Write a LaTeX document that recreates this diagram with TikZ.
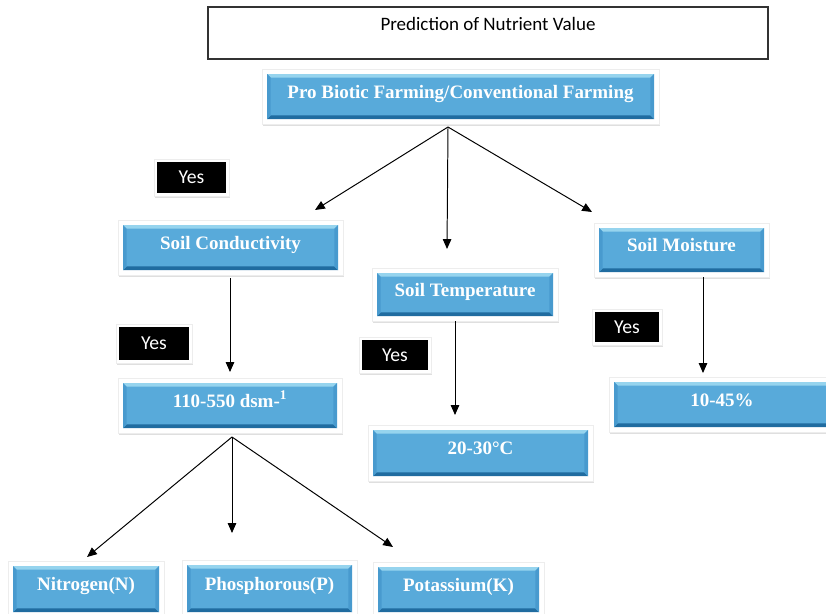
\documentclass[tikz,border=0pt]{standalone}
\usepackage{fontspec}
\setmainfont{Liberation Serif}
\newfontfamily\calibri{Carlito}
\usetikzlibrary{arrows.meta}
\usetikzlibrary{shadows}
\definecolor{boxblue}{RGB}{88,170,218}
\definecolor{boxlight}{RGB}{150,212,238}
\definecolor{boxdark}{RGB}{32,108,160}
\definecolor{boxside}{RGB}{72,154,206}
\tikzset{
	framed/.style={fill=white, draw=black!7, line width=0.3pt, inner sep=0pt,
		drop shadow={shadow xshift=0.8pt, shadow yshift=-1.2pt, opacity=0.25}},
	bevel/.style={path picture={
		% blue face inside the white frame
		\path (path picture bounding box.south west) ++(0.125cm,0.125cm) coordinate (sw) ++(0.09cm,0.09cm) coordinate (isw);
		\path (path picture bounding box.north east) ++(-0.125cm,-0.125cm) coordinate (ne) ++(-0.09cm,-0.09cm) coordinate (ine);
		\fill[boxblue] (sw) rectangle (ne);
		% bevel edges
		\fill[boxlight] (sw|-ne) -- (ne) -- (ine) -- (isw|-ine) -- cycle;
		\fill[boxdark] (sw) -- (ne|-sw) -- (ine|-isw) -- (isw) -- cycle;
		\fill[boxside] (sw) -- (sw|-ne) -- (isw|-ine) -- (isw) -- cycle;
		\fill[boxside] (ne|-sw) -- (ne) -- (ine) -- (ine|-isw) -- cycle;
	}},
	blackface/.style={path picture={
		\path (path picture bounding box.south west) ++(0.075cm,0.075cm) coordinate (sw);
		\path (path picture bounding box.north east) ++(-0.075cm,-0.075cm) coordinate (ne);
		\fill[black] (sw) rectangle (ne);
	}},
	arr/.style={-{Triangle[length=7pt,width=6pt]}, line width=0.7pt},
}
\newcommand{\bluebox}[6] % name, left, top, right, bottom (px), text
{
	\node[framed, bevel, text=white, font=\fontsize{13.5}{16}\selectfont\bfseries,
		text height=9.5pt, text depth=7pt,
		minimum width={(#4-#2+10)*0.025cm}, minimum height={(#5-#3+10)*0.025cm}]
		(#1) at ({(#2+#4)/2},{(#3+#5)/2}) {#6};
}
\newcommand{\yesbox}[5] % name, left, top, right, bottom (px)
{
	\node[framed, blackface, text=white, font=\calibri\fontsize{14}{16}\selectfont,
		minimum width={(#4-#2+6)*0.025cm}, minimum height={(#5-#3+6)*0.025cm}]
		(#1) at ({(#2+#4)/2},{(#3+#5)/2}) {Yes};
}

\begin{document}
\begin{tikzpicture}[x=0.025cm, y=-0.025cm]
	% page: 826 x 613 px
	\useasboundingbox (0,0) rectangle (826,613);
	
	\node[draw=black!80, line width=0.8pt, inner sep=0pt, anchor=base,
		minimum width={560*0.025cm}, text height=0.575cm, text depth=0.725cm,
		font=\calibri\fontsize{13.5}{16}\selectfont] (title) at (488,30) {Prediction of Nutrient Value};
	
	\bluebox{farming}{267}{74}{654}{119}{Pro Biotic Farming/Conventional Farming};
	
	\bluebox{cond}{123}{225}{338}{270}{Soil Conductivity};
	\bluebox{temp}{377}{273}{553}{316}{Soil Temperature};
	\bluebox{moist}{599}{228}{764}{272}{Soil Moisture};
	
	\bluebox{condval}{123}{383}{337}{428}{110-550 dsm-\textsuperscript{1}};
	\bluebox{tempval}{373}{430}{588}{476}{20-30°C};
	\bluebox{moistval}{614}{382}{830}{427}{10-45\%};
	
	\bluebox{nitro}{13}{566}{159}{612}{Nitrogen(N)};
	\bluebox{phos}{187}{565}{352}{612}{Phosphorous(P)};
	\bluebox{pota}{378}{567}{539}{612}{Potassium(K)};
	
	\yesbox{yesa}{157}{162}{226}{193};
	\yesbox{yesb}{119}{327}{189}{360};
	\yesbox{yesc}{362}{340}{428}{370};
	\yesbox{yesd}{595}{312}{659}{342};
	
	% fork below the farming box
	\coordinate (pbfork) at (448,127);
	\coordinate (condtip) at (315,210);
	\coordinate (temptip) at (447,249);
	\coordinate (moisttip) at (592,212);
	\draw[arr] (pbfork) -- (condtip);
	\draw[arr] (pbfork) -- (temptip);
	\draw[arr] (pbfork) -- (moisttip);
	
	% ranges
	\coordinate (cvtip) at (230,372);
	\coordinate (tvtip) at (455,415);
	\coordinate (mvtip) at (703,373);
	\draw[arr, shorten <=0.08cm] (cond.south -| cvtip) -- (cvtip);
	\draw[arr] (temp.south -| tvtip) -- (tvtip);
	\draw[arr] (moist.south -| mvtip) -- (mvtip);
	
	% nutrients
	\coordinate (cvfork) at (232,437);
	\coordinate (nitrotip) at (87,557);
	\coordinate (phostip) at (232,533);
	\coordinate (potatip) at (393,547);
	\draw[arr] (cvfork) -- (nitrotip);
	\draw[arr] (cvfork) -- (phostip);
	\draw[arr] (cvfork) -- (potatip);
\end{tikzpicture}
\end{document}
